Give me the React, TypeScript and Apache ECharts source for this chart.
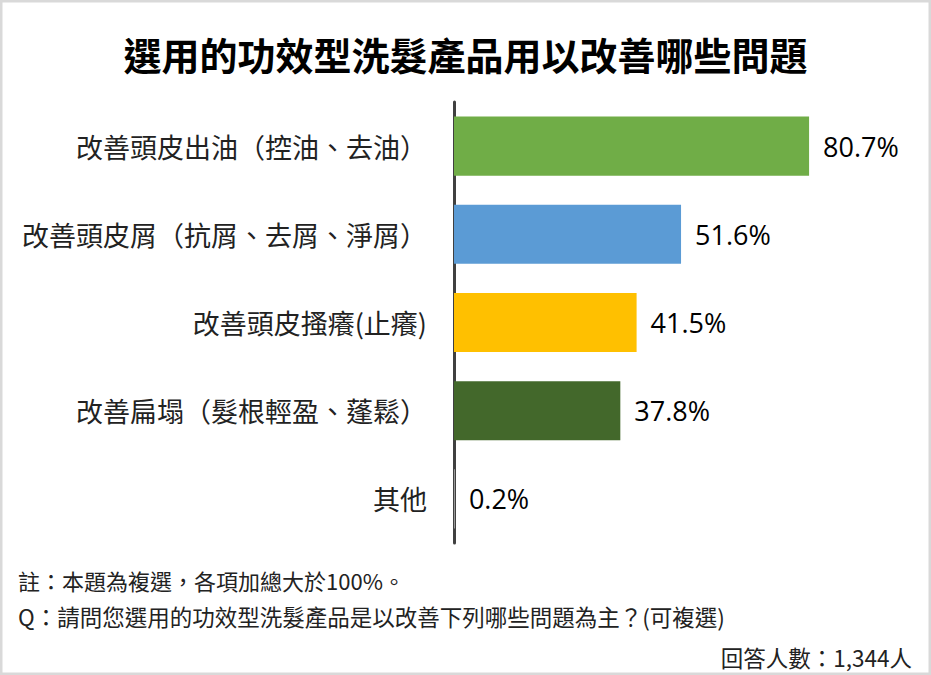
import React, { useEffect, useRef } from "react";
import * as echarts from "echarts";

const title = "選用的功效型洗髮產品用以改善哪些問題";
const categories = [
  "改善頭皮出油（控油、去油）",
  "改善頭皮屑（抗屑、去屑、淨屑）",
  "改善頭皮搔癢(止癢)",
  "改善扁塌（髮根輕盈、蓬鬆）",
  "其他",
];
const values = [80.7, 51.6, 41.5, 37.8, 0.2];
const colors = ["#70AD47", "#5B9BD5", "#FFC000", "#43682B", "#A5A5A5"];
const notes = [
  "註：本題為複選，各項加總大於100%。",
  "Q：請問您選用的功效型洗髮產品是以改善下列哪些問題為主？(可複選)",
];
const respondents = "回答人數：1,344人";

export default function App() {
  const ref = useRef<HTMLDivElement>(null);
  useEffect(() => {
    if (!ref.current) return;
    const chart = echarts.init(ref.current, null, { renderer: "svg" });
    const cjk = "'Noto Sans CJK TC', 'Noto Sans CJK SC', sans-serif";
    chart.setOption({
      animation: false,
      backgroundColor: "#ffffff",
      grid: { left: 454, right: 37, top: 102, bottom: 132, containLabel: false },
      xAxis: {
        type: "value",
        min: 0,
        max: 100,
        show: false,
      },
      yAxis: {
        type: "category",
        inverse: true,
        data: categories,
        axisLine: { show: true, lineStyle: { color: "#404040", width: 3 } },
        axisTick: { show: false },
        axisLabel: {
          fontFamily: cjk,
          fontSize: 27,
          color: "#222",
          margin: 27,
        },
      },
      series: [
        {
          type: "bar",
          data: values.map((v, i) => ({ value: v, itemStyle: { color: colors[i] } })),
          barCategoryGap: "33%",
          label: {
            show: true,
            position: "right",
            distance: 14,
            formatter: (p: any) => p.value.toFixed(1) + "%",
            fontFamily: "'Open Sans', 'Noto Sans', sans-serif",
            fontSize: 27,
            color: "#000",
          },
        },
      ],
      graphic: [
        {
          type: "rect",
          shape: { x: 1, y: 1, width: 929, height: 673 },
          style: { fill: "none", stroke: "#d9d9d9", lineWidth: 3 },
          silent: true,
        },
        {
          type: "text",
          x: 0,
          y: 0,
          style: {
            text: title,
            x: 465.5,
            y: 53,
            align: "center",
            verticalAlign: "middle",
            font: `bold 38px ${cjk}`,
            fill: "#000",
          },
        },
        {
          type: "text",
          x: 0,
          y: 0,
          style: { text: notes[0], x: 18, y: 580, verticalAlign: "middle", font: `22px ${cjk}`, fill: "#222" },
        },
        {
          type: "text",
          x: 0,
          y: 0,
          style: { text: notes[1], x: 18, y: 616, verticalAlign: "middle", font: `22.5px ${cjk}`, fill: "#222" },
        },
        {
          type: "text",
          x: 0,
          y: 0,
          style: {
            text: respondents,
            x: 912,
            y: 657,
            align: "right",
            verticalAlign: "middle",
            font: `22.5px ${cjk}`,
            fill: "#222",
          },
        },
      ],
    });
    return () => chart.dispose();
  }, []);
  return (
    <div
      ref={ref}
      style={{ position: "fixed", left: 0, top: 0, width: 931, height: 675 }}
    />
  );
}
